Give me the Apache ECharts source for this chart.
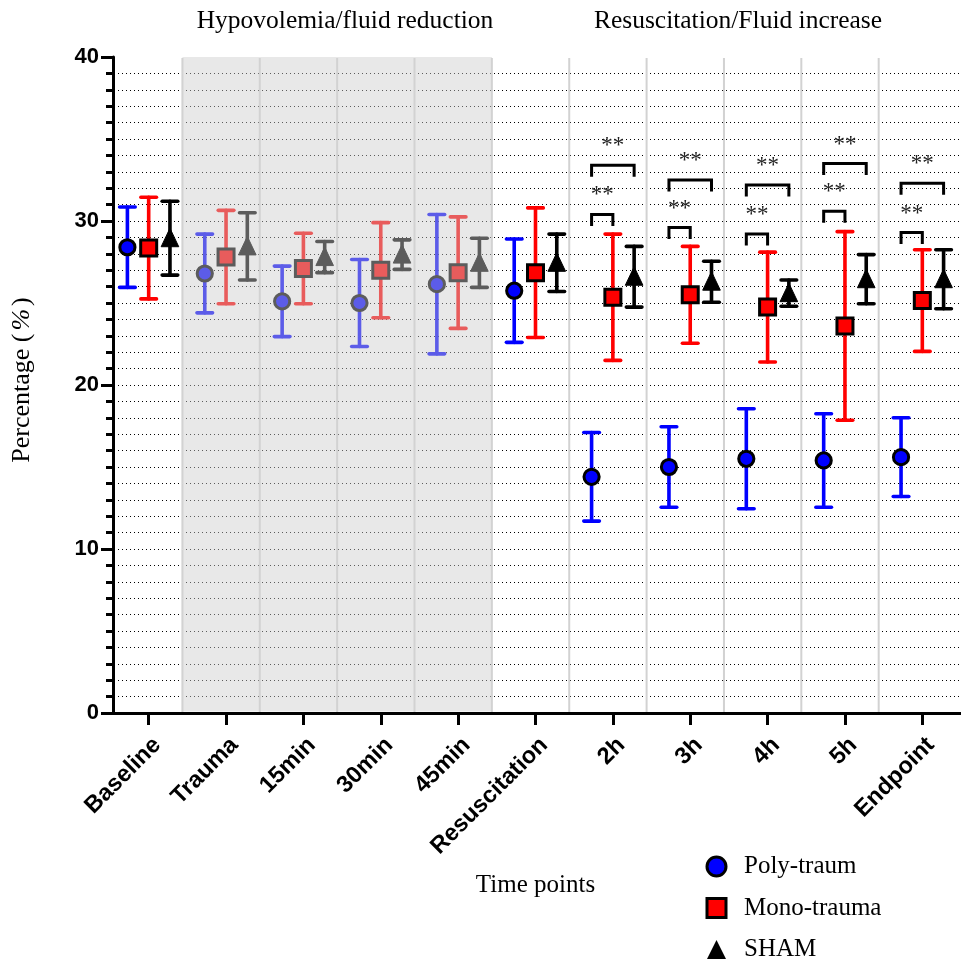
<!DOCTYPE html>
<html>
<head>
<meta charset="utf-8">
<script src="https://cdn.jsdelivr.net/npm/echarts@6/dist/echarts.min.js"></script>
<style>
  html, body { margin: 0; padding: 0; background: #ffffff; }
  #chart { width: 961px; height: 965px; }
</style>
</head>
<body>
<div id="chart"></div>
<script>
// Time points on the x axis
const categories = ['Baseline', 'Trauma', '15min', '30min', '45min', 'Resuscitation', '2h', '3h', '4h', '5h', 'Endpoint'];

// Group means and standard deviations (percentage)
const polyMean = [28.4, 26.8, 25.1, 25.0, 26.15, 25.75, 14.4, 15.0, 15.5, 15.4, 15.6];
const polySd   = [2.45, 2.4, 2.15, 2.65, 4.25, 3.15, 2.7, 2.45, 3.05, 2.85, 2.4];
const monoMean = [28.35, 27.8, 27.1, 27.0, 26.85, 26.85, 25.35, 25.5, 24.75, 23.6, 25.15];
const monoSd   = [3.1, 2.85, 2.15, 2.9, 3.4, 3.95, 3.85, 2.95, 3.35, 5.75, 3.1];
const shamMean = [28.95, 28.45, 27.8, 27.95, 27.45, 27.45, 26.6, 26.3, 25.6, 26.45, 26.45];
const shamSd   = [2.25, 2.05, 0.95, 0.9, 1.5, 1.75, 1.85, 1.25, 0.8, 1.5, 1.8];

// Y axis range and ticks
const yMin = 0;
const yMax = 40;
const yInterval = 10;

// Significance brackets (height of bracket bar, in %)
const sigCategories = ['2h', '3h', '4h', '5h', 'Endpoint'];
const polyVsMonoBar = [30.4, 29.6, 29.2, 30.6, 29.3];
const polyVsShamBar = [33.4, 32.5, 32.2, 33.5, 32.3];
const sigLabels = ['**', '**', '**', '**', '**'];

// Experimental phases
const phaseTitles = ['Hypovolemia/fluid reduction', 'Resuscitation/Fluid increase'];
const shadedFrom = 'Trauma';
const shadedTo = '45min';

const seriesNames = ['Poly-traum', 'Mono-trauma', 'SHAM'];
const seriesColors = ['#0000ff', '#ff0000', '#000000'];

// horizontal spread of the three groups within a time point (fraction of band)
const SPREAD = 0.275;
// separators sit just right of each time point's group
const SEP_POS = 0.436;

function bandWidth(api) { return api.size([1, 0])[0]; }

function makeErrorBarRenderer(color, symbol, offsetFrac) {
  return function (params, api) {
    const idx = api.value(0);
    const m = api.value(1);
    const s = api.value(2);
    const bw = bandWidth(api);
    const c = api.coord([idx, m]);
    const x = c[0] + offsetFrac * bw;
    const cy = c[1];
    const yTop = api.coord([idx, m + s])[1];
    const yBot = api.coord([idx, m - s])[1];
    const cap = 7.8;
    const ls = { stroke: color, lineWidth: 3.6, lineCap: 'round' };
    const children = [
      { type: 'line', shape: { x1: x, y1: yTop, x2: x, y2: yBot }, style: ls },
      { type: 'line', shape: { x1: x - cap, y1: yTop, x2: x + cap, y2: yTop }, style: ls },
      { type: 'line', shape: { x1: x - cap, y1: yBot, x2: x + cap, y2: yBot }, style: ls }
    ];
    if (symbol === 'circle') {
      children.push({ type: 'circle', shape: { cx: x, cy: cy, r: 7.6 },
        style: { fill: color, stroke: '#000', lineWidth: 3 } });
    } else if (symbol === 'rect') {
      children.push({ type: 'rect', shape: { x: x - 8, y: cy - 8, width: 16, height: 16 },
        style: { fill: color, stroke: '#000', lineWidth: 3 } });
    } else {
      children.push({ type: 'polygon', shape: { points: [[x, cy - 10], [x + 8.8, cy + 8.5], [x - 8.8, cy + 8.5]] },
        style: { fill: '#000', stroke: '#000', lineWidth: 1 } });
    }
    return { type: 'group', children: children };
  };
}

function groupData(means, sds) {
  return means.map(function (m, i) { return [i, m, sds[i]]; });
}

const shadeStart = categories.indexOf(shadedFrom) - 1;
const shadeEnd = categories.indexOf(shadedTo);

const option = {
  animation: false,
  backgroundColor: '#ffffff',
  grid: { left: 110, top: 57, width: 859, height: 656, containLabel: false },
  xAxis: {
    type: 'category',
    data: categories,
    boundaryGap: true,
    z: 6,
    axisLine: { show: true, lineStyle: { color: '#000', width: 3 } },
    axisTick: { show: true, alignWithLabel: true, length: 12, lineStyle: { color: '#000', width: 3 } },
    axisLabel: {
      interval: 0, rotate: 45, margin: 20, verticalAlign: 'top',
      fontFamily: 'Liberation Sans', fontWeight: 'bold', fontSize: 23.5, color: '#000'
    },
    splitLine: { show: false },
    name: 'Time points',
    nameLocation: 'middle',
    nameGap: 160,
    nameTextStyle: { fontFamily: 'Liberation Serif', fontSize: 25, color: '#000' }
  },
  yAxis: {
    type: 'value',
    min: yMin, max: yMax, interval: yInterval,
    offset: -3,
    axisLine: { show: true, lineStyle: { color: '#000', width: 3 } },
    axisTick: { show: true, length: 12, lineStyle: { color: '#000', width: 3 } },
    minorTick: { show: true, splitNumber: 10, length: 7, lineStyle: { color: '#000', width: 3 } },
    axisLabel: { margin: 14, fontFamily: 'Liberation Sans', fontWeight: 'bold', fontSize: 22, color: '#000' },
    splitLine: { show: true, lineStyle: { color: ['rgba(0,0,0,0)', '#000', '#000', '#000', 'rgba(0,0,0,0)'], width: 1, type: [1, 3] } },
    minorSplitLine: { show: true, lineStyle: { color: '#000', width: 1, type: [1, 3] } }
  },
  legend: {
    orient: 'vertical',
    left: 705.5, top: 854, padding: 0,
    itemWidth: 19, itemHeight: 19, itemGap: 16.5,
    selectedMode: false,
    textStyle: { fontFamily: 'Liberation Serif', fontSize: 25, lineHeight: 25, color: '#000', padding: [0, 0, 0, 13] },
    data: [
      { name: seriesNames[0], icon: 'circle', itemStyle: { color: seriesColors[0], borderColor: '#000', borderWidth: 3 } },
      { name: seriesNames[1], icon: 'rect', itemStyle: { color: seriesColors[1], borderColor: '#000', borderWidth: 3 } },
      { name: seriesNames[2], icon: 'triangle', itemStyle: { color: seriesColors[2], borderColor: '#000', borderWidth: 0 } }
    ]
  },
  graphic: [
    { type: 'text', x: 345, y: 21, style: { text: phaseTitles[0], fontFamily: 'Liberation Serif', fontSize: 25.5, fill: '#000', align: 'center', verticalAlign: 'middle' } },
    { type: 'text', x: 738, y: 21, style: { text: phaseTitles[1], fontFamily: 'Liberation Serif', fontSize: 25.5, fill: '#000', align: 'center', verticalAlign: 'middle' } },
    {
      type: 'text', x: 22, y: 380, rotation: Math.PI / 2,
      style: {
        text: '{n|Percentage (}{p|%}{n|)}',
        align: 'center', verticalAlign: 'middle',
        rich: {
          n: { fontFamily: 'Liberation Serif', fontSize: 26, fill: '#000' },
          p: { fontFamily: 'Liberation Serif', fontSize: 26, fontStyle: 'italic', fill: '#000', padding: [0, 3, 0, 3] }
        }
      }
    }
  ],
  series: [
    {
      name: seriesNames[0], type: 'custom', z: 2,
      itemStyle: { color: seriesColors[0] },
      renderItem: makeErrorBarRenderer(seriesColors[0], 'circle', -SPREAD),
      encode: { x: 0, y: 1 },
      data: groupData(polyMean, polySd)
    },
    {
      name: seriesNames[1], type: 'custom', z: 2,
      itemStyle: { color: seriesColors[1] },
      renderItem: makeErrorBarRenderer(seriesColors[1], 'rect', 0),
      encode: { x: 0, y: 1 },
      data: groupData(monoMean, monoSd)
    },
    {
      name: seriesNames[2], type: 'custom', z: 2,
      itemStyle: { color: seriesColors[2] },
      renderItem: makeErrorBarRenderer(seriesColors[2], 'triangle', SPREAD),
      encode: { x: 0, y: 1 },
      data: groupData(shamMean, shamSd)
    },
    {
      // grey veil over the hypovolemia phase
      name: 'phase', type: 'custom', z: 3, silent: true,
      renderItem: function (params, api) {
        const bw = bandWidth(api);
        const x0 = api.coord([api.value(0), yMax])[0] + SEP_POS * bw;
        const x1 = api.coord([api.value(1), yMax])[0] + SEP_POS * bw;
        const y0 = api.coord([0, yMax])[1];
        const y1 = api.coord([0, yMin])[1] - 1.5;
        return { type: 'rect', shape: { x: x0, y: y0, width: x1 - x0, height: y1 - y0 },
          style: { fill: 'rgba(203,203,203,0.45)' } };
      },
      data: [[shadeStart, shadeEnd]]
    },
    {
      // vertical separators between time points
      name: 'separators', type: 'custom', z: 4, silent: true,
      renderItem: function (params, api) {
        const bw = bandWidth(api);
        const x = api.coord([api.value(0), yMax])[0] + SEP_POS * bw;
        const y0 = api.coord([0, yMax])[1] + 1;
        const y1 = api.coord([0, yMin])[1];
        return { type: 'line', shape: { x1: x, y1: y0, x2: x, y2: y1 },
          style: { stroke: '#d2d2d2', lineWidth: 2 } };
      },
      data: categories.slice(0, categories.length - 1).map(function (c, i) { return [i]; })
    },
    {
      // significance brackets
      name: 'significance', type: 'custom', z: 5, silent: true,
      renderItem: function (params, api) {
        const idx = api.value(0);
        const bw = bandWidth(api);
        const cx = api.coord([idx, yMax])[0];
        const xPoly = cx - SPREAD * bw;
        const xMono = cx;
        const xSham = cx + SPREAD * bw;
        const yA = api.coord([idx, api.value(1)])[1];
        const yB = api.coord([idx, api.value(2)])[1];
        const leg = 11.5;
        const label = sigLabels[params.dataIndex];
        const bs = { stroke: '#000', fill: null, lineWidth: 3, lineJoin: 'miter' };
        const ts = { fontFamily: 'Liberation Serif', fontSize: 23, fill: '#222', align: 'center', verticalAlign: 'middle' };
        return {
          type: 'group', children: [
            { type: 'polyline', shape: { points: [[xPoly, yA + leg], [xPoly, yA], [xMono, yA], [xMono, yA + leg]] }, style: bs },
            { type: 'polyline', shape: { points: [[xPoly, yB + leg], [xPoly, yB], [xSham, yB], [xSham, yB + leg]] }, style: bs },
            { type: 'text', x: (xPoly + xMono) / 2, y: yA - 19, style: Object.assign({ text: label }, ts) },
            { type: 'text', x: (xPoly + xSham) / 2, y: yB - 19, style: Object.assign({ text: label }, ts) }
          ]
        };
      },
      data: sigCategories.map(function (c, i) {
        return [categories.indexOf(c), polyVsMonoBar[i], polyVsShamBar[i]];
      })
    }
  ]
};

const chart = echarts.init(document.getElementById('chart'), null, { renderer: 'canvas' });
chart.setOption(option);
</script>
</body>
</html>
